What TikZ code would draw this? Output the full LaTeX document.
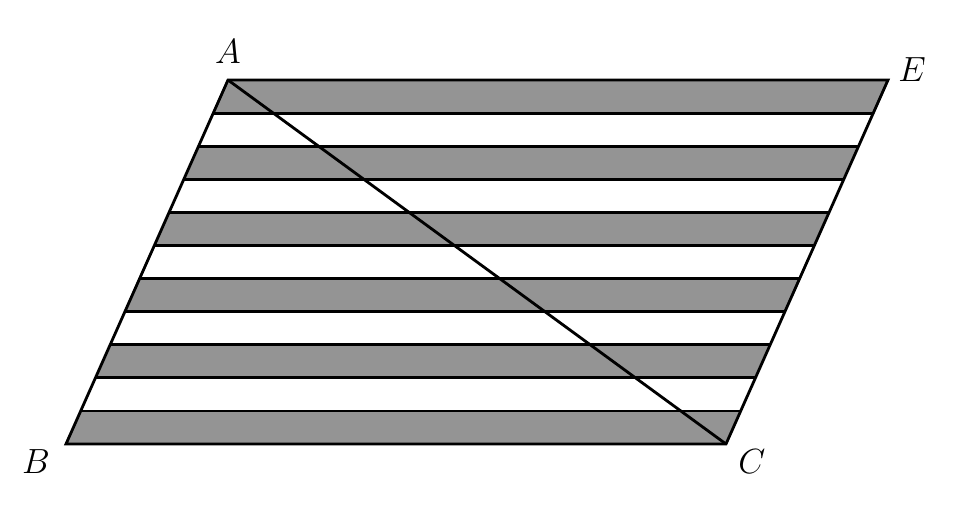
\documentclass[tikz,border=0pt]{standalone}
\usepackage{tikz}
\usetikzlibrary{calc}

\begin{document}
\begin{tikzpicture}[x=0.025cm,y=-0.025cm,
   stripe/.style={fill=black!42},
   edge/.style={line width=2pt},
   lbl/.style={font=\fontsize{30}{36}\selectfont,inner sep=0pt}]
\useasboundingbox (0,0) rectangle (969,516);

\coordinate (A) at (228,80);
\coordinate (E) at (888,80);
\coordinate (B) at (66,444);
\coordinate (C) at (726,444);

% gray bands
\foreach \i in {0,2,...,10} {
  \fill[stripe] ($(A)!\i/11!(B)$) -- ($(E)!\i/11!(C)$)
     -- ($(E)!\i/11+1/11!(C)$) -- ($(A)!\i/11+1/11!(B)$) -- cycle;
}
% band borders
\foreach \i in {1,...,10} {
  \draw[edge] ($(A)!\i/11!(B)$) -- ($(E)!\i/11!(C)$);
}
\draw[edge] (A) -- (E) -- (C) -- (B) -- cycle;
\draw[edge] (A) -- (C);

\node[lbl] (lA) at (228,52) {$A$};
\node[lbl] (lE) at (912,70) {$E$};
\node[lbl] (lB) at (36,462) {$B$};
\node[lbl] (lC) at (752,462) {$C$};
\end{tikzpicture}
\end{document}
